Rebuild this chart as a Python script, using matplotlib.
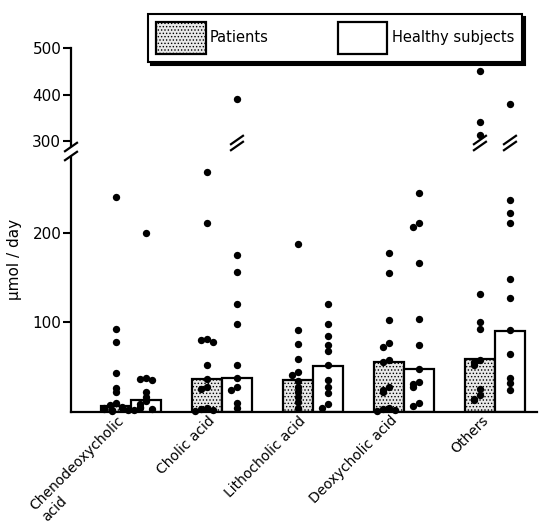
import numpy as np
import matplotlib
matplotlib.use('Agg')
import matplotlib.pyplot as plt
from matplotlib.lines import Line2D
from matplotlib.transforms import IdentityTransform, ScaledTranslation

plt.rcParams['font.family'] = ['DejaVu Sans']
plt.rcParams['hatch.linewidth'] = 0.6

categories = ['Chenodeoxycholic\nacid', 'Cholic acid', 'Lithocholic acid',
              'Deoxycholic acid', 'Others']

# bar heights (umol/day)
patient_means = [7, 37, 36, 56, 59]
healthy_means = [13, 38, 51, 48, 90]

# individual values
patient_vals = [
    [240, 93, 78, 43, 27, 22, 10, 8, 6, 5, 4, 3, 2, 2, 1],
    [268, 211, 82, 80, 78, 53, 37, 28, 26, 4, 3, 2, 1],
    [187, 92, 76, 59, 45, 41, 35, 28, 22, 17, 11, 5],
    [178, 155, 103, 77, 73, 58, 56, 28, 25, 22, 5, 3, 2, 1],
    [450, 341, 314, 132, 101, 93, 58, 56, 53, 26, 19, 15, 13],
]
healthy_vals = [
    [200, 38, 37, 36, 22, 17, 12, 9, 6, 4, 3, 2],
    [391, 175, 156, 121, 98, 53, 38, 28, 25, 10, 4],
    [120, 98, 85, 75, 68, 52, 36, 28, 21, 9, 5],
    [244, 211, 207, 166, 104, 75, 48, 34, 31, 28, 10, 7],
    [381, 237, 222, 211, 148, 127, 91, 65, 38, 32, 25],
]

W, H = 539, 526
fig = plt.figure(figsize=(W / 100, H / 100), dpi=100)
ax = fig.add_axes([71 / W, (H - 412) / H, 466 / W, 255 / H])
axu = fig.add_axes([71 / W, (H - 146) / H, 466 / W, 98 / H])

bw = 0.33
x = np.arange(len(categories))
LOW_TOP = 284.6
UP_BOT = 290

ax.bar(x - bw / 2, patient_means, bw, facecolor='#e8e8e8', edgecolor='black',
       hatch='.....', linewidth=1.6, label='Patients', zorder=2)
ax.bar(x + bw / 2, healthy_means, bw, facecolor='white', edgecolor='black',
       linewidth=1.6, label='Healthy subjects', zorder=2)


def jitter(vals):
    # spread dots that overlap sideways
    offs = [0, -0.07, 0.07, -0.13, 0.13, -0.04, 0.04]
    out = []
    for i, v in enumerate(vals):
        n = sum(1 for u in vals[:i] if abs(u - v) < 5)
        out.append(offs[n % len(offs)])
    return np.array(out)


broken = []
for i in range(len(categories)):
    for sgn, vals in ((-1, patient_vals[i]), (1, healthy_vals[i])):
        v = np.array(vals, dtype=float)
        xs = x[i] + sgn * bw / 2 + jitter(vals)
        lo = v < UP_BOT
        ax.scatter(xs[lo], v[lo], s=28, color='black', zorder=3, clip_on=False,
                   linewidths=0)
        if (~lo).any():
            axu.scatter(xs[~lo], v[~lo], s=28, color='black', zorder=3,
                        clip_on=False, linewidths=0)
            broken.append(x[i] + sgn * bw / 2)

ax.set_xlim(-0.659, 4.462)
ax.set_ylim(0, LOW_TOP)
axu.set_xlim(-0.659, 4.462)
axu.set_ylim(UP_BOT, 500)

for a in (ax, axu):
    a.spines['top'].set_visible(False)
    a.spines['right'].set_visible(False)
    a.spines['left'].set_linewidth(1.6)
    a.tick_params(axis='y', direction='out', length=6, width=1.5,
                  labelsize=11, pad=1)
axu.spines['bottom'].set_visible(False)
ax.spines['bottom'].set_linewidth(1.6)
axu.set_xticks([])
ax.set_yticks([100, 200])
axu.set_yticks([300, 400, 500])

ax.set_xticks(x)
ax.set_xticklabels(categories, rotation=45, ha='right', va='top',
                   rotation_mode='anchor', fontsize=10, multialignment='left')
ax.tick_params(axis='x', length=0, pad=3)
shift = ScaledTranslation(-10 / 72, 2 / 72, fig.dpi_scale_trans)
for lab in ax.get_xticklabels():
    lab.set_transform(lab.get_transform() + shift)

ax.set_ylabel('\u03bcmol / day', fontsize=11)
ax.yaxis.set_label_coords(-0.105, 0.6)

# break marks
def slashes(px, py, gap=7, half=6):
    for dy in (-gap / 2, gap / 2):
        fig.add_artist(Line2D([px - half, px + half],
                              [py + dy - half * 0.7, py + dy + half * 0.7],
                              color='black', lw=1.6,
                              transform=IdentityTransform()))

fig.canvas.draw()
sx, sy = ax.transAxes.transform((0, 1))
uy = axu.transAxes.transform((0, 0))[1]
slashes(sx, (sy + uy) / 2, gap=9)
for bx in broken:
    px = ax.transData.transform((bx, 0))[0]
    slashes(px, uy + 3, gap=6, half=6)

leg = fig.legend(loc='lower left', bbox_to_anchor=(148 / W, 1 - 62 / H, 374 / W, 50 / H),
                 mode='expand', ncol=2, fontsize=10.5, frameon=True, fancybox=False,
                 handlelength=3.4, handleheight=3.0, handletextpad=0.3,
                 borderpad=0.55, borderaxespad=0,
                 shadow={'color': 'black', 'alpha': 1, 'ox': 2.5, 'oy': -2.5})
leg.get_frame().set_edgecolor('black')
leg.get_frame().set_linewidth(1.5)

fig.savefig('out.png', dpi=100)
